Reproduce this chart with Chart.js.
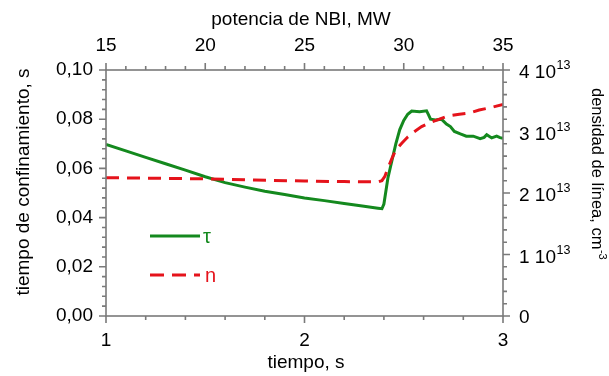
<!DOCTYPE html>
<html>
<head>
<meta charset="utf-8">
<script src="https://cdn.jsdelivr.net/npm/chart.js@4"></script>
<style>
  html, body { margin: 0; padding: 0; background: #fff; }
  #grafico { display: block; }
</style>
</head>
<body>
<canvas id="grafico" width="609" height="376"></canvas>
<script>
// tiempo de confinamiento (s) frente al tiempo de descarga
const tiempoTau = [1.00, 1.10, 1.20, 1.30, 1.40, 1.50, 1.60, 1.70, 1.80, 1.90, 2.00, 2.10, 2.20, 2.30, 2.37, 2.39,
  2.40, 2.42, 2.44, 2.46, 2.48, 2.50, 2.52, 2.54, 2.58, 2.615, 2.625, 2.635, 2.66, 2.69, 2.715, 2.735, 2.755,
  2.785, 2.815, 2.85, 2.885, 2.905, 2.918, 2.943, 2.968, 2.985, 3.00];
const tau = [0.0697, 0.0671, 0.0645, 0.0619, 0.0593, 0.0566, 0.0542, 0.0524, 0.0507, 0.0494, 0.0480, 0.0469, 0.0457, 0.0446, 0.0438, 0.0436,
  0.0455, 0.0560, 0.0630, 0.0700, 0.0758, 0.0795, 0.0820, 0.0833, 0.0830, 0.0834, 0.0818, 0.0800, 0.0797, 0.0800, 0.0780, 0.0770, 0.0750,
  0.0740, 0.0731, 0.0731, 0.0721, 0.0726, 0.0737, 0.0724, 0.0731, 0.0725, 0.0722];

// densidad de línea, en unidades de 10^13 cm^-3
const tiempoDensidad = [1.00, 1.25, 1.50, 1.75, 2.00, 2.20, 2.37, 2.39, 2.405, 2.42, 2.44, 2.46, 2.49, 2.52, 2.55, 2.59,
  2.63, 2.67, 2.72, 2.78, 2.83, 2.88, 2.94, 3.00];
const densidad = [2.25, 2.24, 2.23, 2.21, 2.195, 2.185, 2.18, 2.20, 2.27, 2.40, 2.56, 2.70, 2.81, 2.91, 2.99, 3.08,
  3.14, 3.19, 3.25, 3.28, 3.30, 3.35, 3.39, 3.44];

// ejes: límites, paso mayor y paso menor
const ejeTiempo = { min: 1, max: 3, paso: 1, menor: 0.2 };
const ejePotencia = { min: 15, max: 35, paso: 5, menor: 1 };
const ejeTau = { min: 0, max: 0.1, paso: 0.02, menor: 0.004 };
const ejeDensidad = { min: 0, max: 4, paso: 1, menor: 0.2 };

const VERDE = '#14891e';
const ROJO = '#e5131b';
const GRIS = '#7a7a7a';
const FUENTE = "'Liberation Sans', Arial, sans-serif";

function puntos(xs, ys, escala) {
  return xs.map((x, i) => ({ x, y: ys[i] * escala }));
}

function ticksFijos(eje) {
  return { min: eje.min, max: eje.max };
}

// marco, marcas de los ejes, etiquetas de la densidad, títulos y leyenda
const ejesOrigin = {
  id: 'ejesOrigin',
  afterDraw(chart) {
    const ctx = chart.ctx;
    const a = chart.chartArea;
    const s = chart.scales;
    ctx.save();
    ctx.strokeStyle = GRIS;
    ctx.lineWidth = 1.6;
    ctx.strokeRect(a.left, a.top, a.right - a.left, a.bottom - a.top);

    const marcas = (eje, escala, factor, dibujar) => {
      const n = Math.round((eje.max - eje.min) / eje.menor);
      const cada = Math.round(eje.paso / eje.menor);
      for (let i = 0; i <= n; i++) {
        const v = (eje.min + i * eje.menor) * factor;
        const p = escala.getPixelForValue(v);
        dibujar(p, i % cada === 0 ? 7 : 4);
      }
    };
    ctx.beginPath();
    marcas(ejeTiempo, s.x, 1, (p, l) => { ctx.moveTo(p, a.bottom); ctx.lineTo(p, a.bottom + l); });
    marcas(ejePotencia, s.x2, 1, (p, l) => { ctx.moveTo(p, a.top); ctx.lineTo(p, a.top - l); });
    marcas(ejeTau, s.y, 1, (p, l) => { ctx.moveTo(a.left, p); ctx.lineTo(a.left - l, p); });
    marcas(ejeDensidad, s.y2, 1e13, (p, l) => { ctx.moveTo(a.right, p); ctx.lineTo(a.right + l, p); });
    ctx.stroke();

    // etiquetas "k 10^13" con exponente elevado
    ctx.fillStyle = '#000';
    ctx.textAlign = 'left';
    ctx.textBaseline = 'alphabetic';
    for (let k = ejeDensidad.min; k <= ejeDensidad.max; k += ejeDensidad.paso) {
      const p = s.y2.getPixelForValue(k * 1e13);
      const x0 = a.right + 16;
      ctx.font = '19px ' + FUENTE;
      if (k === 0) {
        ctx.fillText('0', x0, p + 7);
        continue;
      }
      const base = `${k} 10`;
      ctx.fillText(base, x0, p + 8);
      const w = ctx.measureText(base).width;
      ctx.font = '12.5px ' + FUENTE;
      ctx.fillText('13', x0 + w + 0.5, p - 1);
    }

    ctx.textAlign = 'center';
    ctx.font = '19px ' + FUENTE;
    ctx.fillText('potencia de NBI, MW', 301, 25);
    ctx.fillText('tiempo, s', 306, 368);

    ctx.save();
    ctx.translate(29, 182);
    ctx.rotate(-Math.PI / 2);
    ctx.fillText('tiempo de confinamiento, s', 0, 0);
    ctx.restore();

    // título derecho con superíndice
    ctx.save();
    ctx.translate(592, 88);
    ctx.rotate(Math.PI / 2);
    ctx.textAlign = 'left';
    ctx.font = '16.5px ' + FUENTE;
    const titulo = 'densidad de línea, cm';
    ctx.fillText(titulo, 0, 0);
    const wt = ctx.measureText(titulo).width;
    ctx.font = '11px ' + FUENTE;
    ctx.fillText('-3', wt + 0.5, -7);
    ctx.restore();

    // leyenda
    const lx = a.left + 44;
    ctx.lineWidth = 3;
    ctx.strokeStyle = VERDE;
    ctx.beginPath();
    ctx.moveTo(lx, 236);
    ctx.lineTo(lx + 50, 236);
    ctx.stroke();
    ctx.strokeStyle = ROJO;
    ctx.setLineDash([14, 8]);
    ctx.beginPath();
    ctx.moveTo(lx, 275);
    ctx.lineTo(lx + 50, 275);
    ctx.stroke();
    ctx.setLineDash([]);
    ctx.textAlign = 'left';
    ctx.font = '20px ' + FUENTE;
    ctx.fillStyle = VERDE;
    ctx.fillText('τ', lx + 53, 243);
    ctx.fillStyle = ROJO;
    ctx.fillText('n', lx + 55, 282);
    ctx.restore();
  }
};

const fuenteTicks = { family: FUENTE, size: 19 };
const sinRejilla = { display: false, drawTicks: false };

new Chart(document.getElementById('grafico'), {
  type: 'line',
  data: {
    datasets: [
      {
        label: 'τ',
        data: puntos(tiempoTau, tau, 1),
        xAxisID: 'x',
        yAxisID: 'y',
        borderColor: VERDE,
        borderWidth: 3,
        pointRadius: 0,
        tension: 0,
        order: 2,
      },
      {
        label: 'n',
        data: puntos(tiempoDensidad, densidad, 1e13),
        xAxisID: 'x',
        yAxisID: 'y2',
        borderColor: ROJO,
        borderWidth: 3,
        borderDash: [13, 8],
        pointRadius: 0,
        tension: 0,
        order: 1,
      },
    ],
  },
  options: {
    responsive: false,
    animation: false,
    layout: { padding: 0 },
    plugins: { legend: { display: false }, tooltip: { enabled: false } },
    scales: {
      x: {
        type: 'linear',
        position: 'bottom',
        ...ticksFijos(ejeTiempo),
        grid: sinRejilla,
        border: { display: false },
        ticks: { stepSize: ejeTiempo.paso, color: '#000', font: fuenteTicks, padding: 13, maxRotation: 0 },
        afterFit: (e) => { e.height = 60; },
      },
      x2: {
        type: 'linear',
        position: 'top',
        ...ticksFijos(ejePotencia),
        grid: sinRejilla,
        border: { display: false },
        ticks: { stepSize: ejePotencia.paso, color: '#000', font: fuenteTicks, padding: 13, maxRotation: 0 },
        afterFit: (e) => { e.height = 70; },
      },
      y: {
        type: 'linear',
        position: 'left',
        ...ticksFijos(ejeTau),
        grid: sinRejilla,
        border: { display: false },
        ticks: {
          stepSize: ejeTau.paso,
          color: '#000',
          font: fuenteTicks,
          padding: 13,
          callback: (v) => v.toFixed(2).replace('.', ','),
        },
        afterFit: (e) => { e.width = 106; },
      },
      y2: {
        type: 'linear',
        position: 'right',
        min: ejeDensidad.min * 1e13,
        max: ejeDensidad.max * 1e13,
        grid: sinRejilla,
        border: { display: false },
        ticks: { display: false, stepSize: ejeDensidad.paso * 1e13 },
        afterFit: (e) => { e.width = 106; },
      },
    },
  },
  plugins: [ejesOrigin],
});
</script>
</body>
</html>
